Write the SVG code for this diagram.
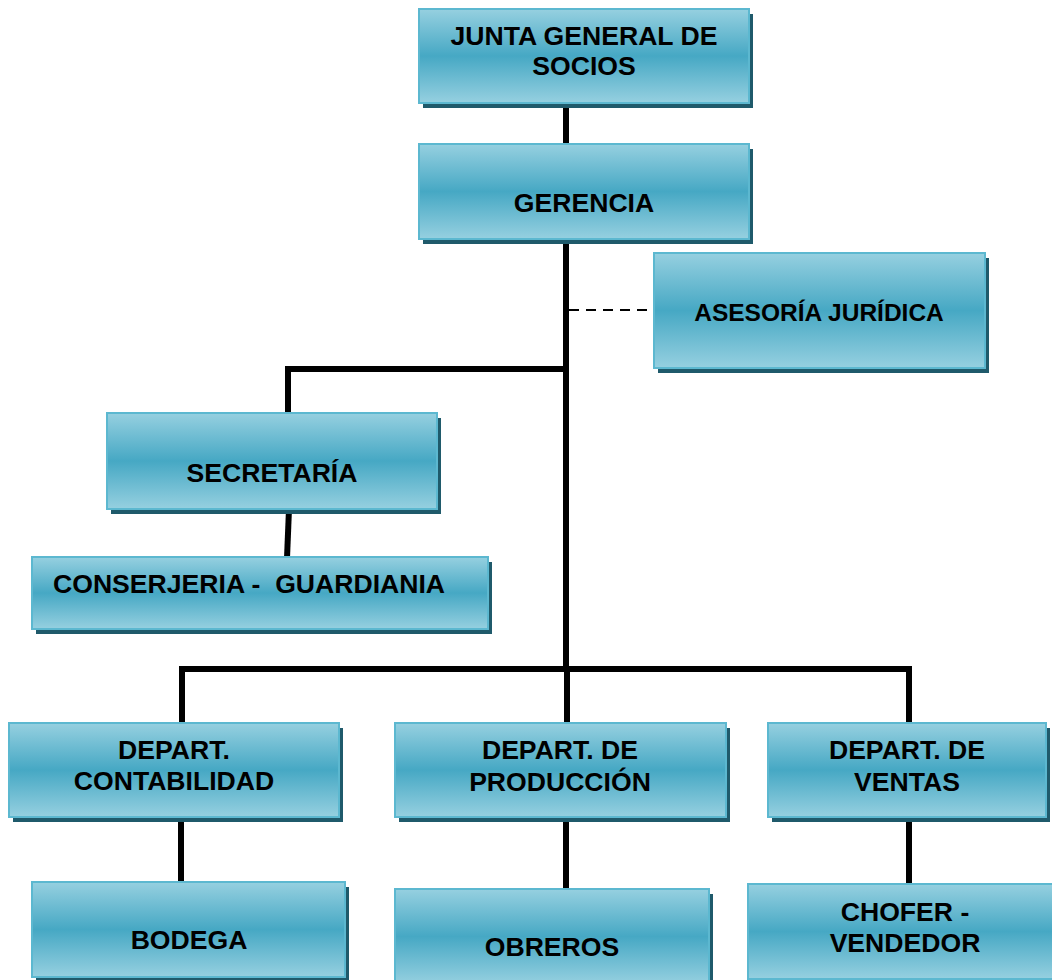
<svg xmlns="http://www.w3.org/2000/svg" width="1052" height="980" viewBox="0 0 1052 980">
<defs>
<linearGradient id="g" x1="0" y1="0" x2="0" y2="1">
<stop offset="0" stop-color="#96d0e0"/>
<stop offset="0.5" stop-color="#46a8c4"/>
<stop offset="1" stop-color="#96d0e0"/>
</linearGradient>
<style>
.sh{fill:#1f5a6b}
.bx{fill:url(#g);stroke:#5cb8d0;stroke-width:2}
.t{font-family:"Liberation Sans",Arial,sans-serif;font-weight:bold;font-size:26.6px;fill:#000;text-anchor:middle;white-space:pre}
.ln{stroke:#000;stroke-width:6;fill:none}
.ds{stroke:#000;stroke-width:2;stroke-dasharray:10 7;fill:none}
</style>
</defs>
<rect width="1052" height="980" fill="#fff"/>
<g id="connectors">
<line class="ln" x1="566" y1="102" x2="566" y2="145"/>
<line class="ln" x1="566" y1="239" x2="566" y2="669"/>
<line class="ds" x1="569" y1="310" x2="654" y2="310"/>
<polyline class="ln" points="566,369 288,369 288,414"/>
<line class="ln" x1="289" y1="509" x2="287" y2="558"/>
<polyline class="ln" points="182,723 182,669 909,669 909,723"/>
<line class="ln" x1="567" y1="669" x2="567" y2="723"/>
<line class="ln" x1="181" y1="817" x2="181" y2="882"/>
<line class="ln" x1="566" y1="817" x2="566" y2="889"/>
<line class="ln" x1="909" y1="817" x2="909" y2="884"/>
</g>
<g id="junta">
<rect class="sh" x="423" y="14" width="330" height="94"/>
<rect class="bx" x="419" y="9" width="330" height="94"/>
<text class="t" x="584" y="45">JUNTA GENERAL DE</text>
<text class="t" x="584" y="75">SOCIOS</text>
</g>
<g id="gerencia">
<rect class="sh" x="423" y="149" width="330" height="95"/>
<rect class="bx" x="419" y="144" width="330" height="95"/>
<text class="t" x="584" y="212">GERENCIA</text>
</g>
<g id="asesoria">
<rect class="sh" x="658" y="258" width="331" height="115"/>
<rect class="bx" x="654" y="253" width="331" height="115"/>
<text class="t" x="819" y="321" style="font-size:24.5px">ASESORÍA JURÍDICA</text>
</g>
<g id="secretaria">
<rect class="sh" x="111" y="418" width="330" height="96"/>
<rect class="bx" x="107" y="413" width="330" height="96"/>
<text class="t" x="272" y="482">SECRETARÍA</text>
</g>
<g id="conserjeria">
<rect class="sh" x="36" y="562" width="456" height="72"/>
<rect class="bx" x="32" y="557" width="456" height="72"/>
<text class="t" x="53" y="593" style="text-anchor:start" xml:space="preserve">CONSERJERIA -  GUARDIANIA</text>
</g>
<g id="contabilidad">
<rect class="sh" x="13" y="728" width="330" height="94"/>
<rect class="bx" x="9" y="723" width="330" height="94"/>
<text class="t" x="174" y="759">DEPART.</text>
<text class="t" x="174" y="790">CONTABILIDAD</text>
</g>
<g id="produccion">
<rect class="sh" x="399" y="728" width="331" height="94"/>
<rect class="bx" x="395" y="723" width="331" height="94"/>
<text class="t" x="560" y="759">DEPART. DE</text>
<text class="t" x="560" y="791">PRODUCCIÓN</text>
</g>
<g id="ventas">
<rect class="sh" x="772" y="728" width="278" height="94"/>
<rect class="bx" x="768" y="723" width="278" height="94"/>
<text class="t" x="907" y="759">DEPART. DE</text>
<text class="t" x="907" y="791">VENTAS</text>
</g>
<g id="bodega">
<rect class="sh" x="36" y="887" width="313" height="95"/>
<rect class="bx" x="32" y="882" width="313" height="95"/>
<text class="t" x="189" y="949">BODEGA</text>
</g>
<g id="obreros">
<rect class="sh" x="399" y="894" width="314" height="95"/>
<rect class="bx" x="395" y="889" width="314" height="95"/>
<text class="t" x="552" y="956">OBREROS</text>
</g>
<g id="chofer">
<rect class="sh" x="752" y="889" width="314" height="95"/>
<rect class="bx" x="748" y="884" width="314" height="95"/>
<text class="t" x="905" y="921">CHOFER -</text>
<text class="t" x="905" y="952">VENDEDOR</text>
</g>
</svg>
